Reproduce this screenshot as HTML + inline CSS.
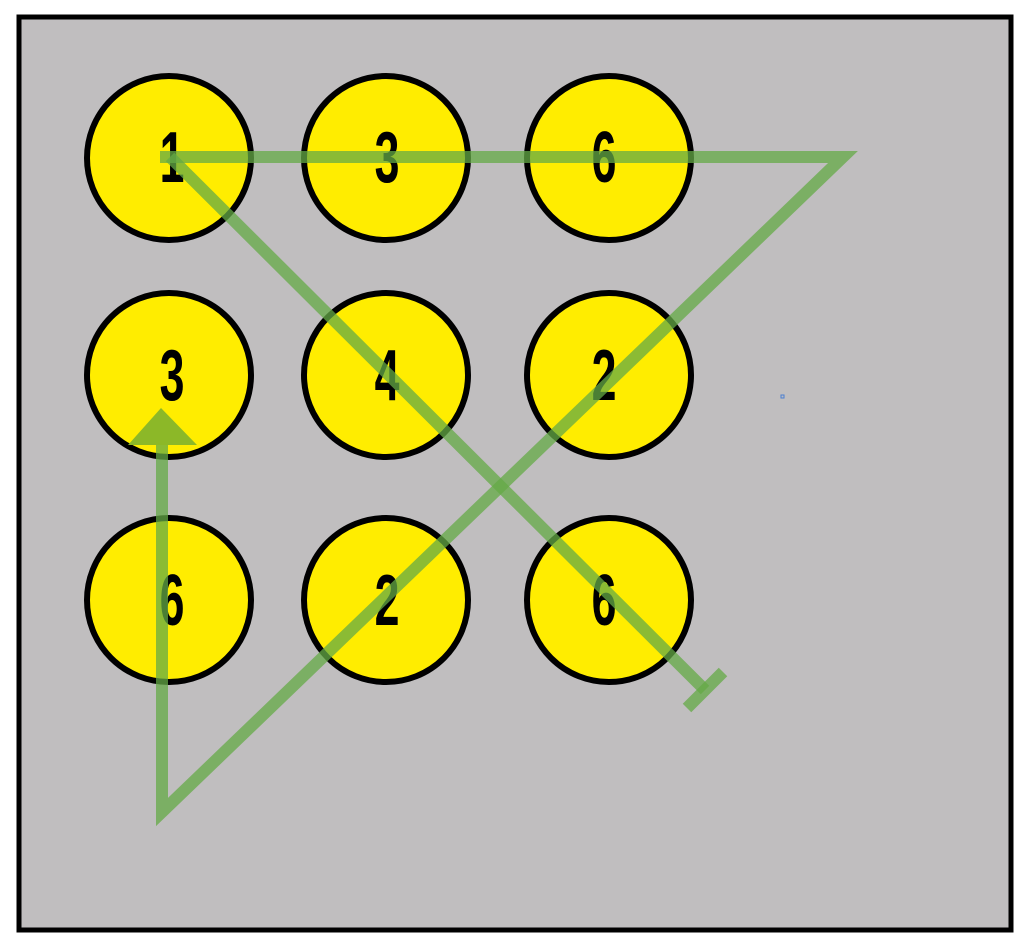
<!DOCTYPE html>
<html><head><style>
html,body{margin:0;padding:0;background:#fff;}
svg{display:block;}
text{font-family:"Liberation Sans Narrow","Liberation Sans",sans-serif;font-weight:bold;font-size:72px;}
</style></head><body>
<svg width="1029" height="946" viewBox="0 0 1029 946">
<rect x="19" y="17" width="992" height="913" fill="#c0bebf" stroke="#000" stroke-width="5"/>
<g fill="#ffed00" stroke="#000" stroke-width="6">
<circle cx="169" cy="158" r="82"/><circle cx="386" cy="158" r="82"/><circle cx="609" cy="158" r="82"/>
<circle cx="169" cy="375" r="82"/><circle cx="386" cy="375" r="82"/><circle cx="609" cy="375" r="82"/>
<circle cx="169" cy="600" r="82"/><circle cx="386" cy="600" r="82"/><circle cx="609" cy="600" r="82"/>
</g>
<g fill="#000" text-anchor="middle">
<text transform="translate(172,182) scale(0.62,1)">1</text>
<text transform="translate(387,182) scale(0.62,1)">3</text>
<text transform="translate(604,182) scale(0.62,1)">6</text>
<text transform="translate(172,400) scale(0.62,1)">3</text>
<text transform="translate(387,400) scale(0.62,1)">4</text>
<text transform="translate(604,400) scale(0.62,1)">2</text>
<text transform="translate(172,625) scale(0.62,1)">6</text>
<text transform="translate(387,625) scale(0.62,1)">2</text>
<text transform="translate(604,625) scale(0.62,1)">6</text>
</g>
<g stroke="rgb(100,170,70)" stroke-opacity="0.75" stroke-width="12" fill="none">
<path d="M160 157 L843 157 L162 812 L162 444" stroke-linejoin="miter"/>
<path d="M170 157 L705 690"/>
<path d="M687 708 L723 672"/>
</g>
<polygon points="161,408 128,445 197,445" fill="rgb(140,184,40)"/>
<rect x="781" y="395" width="3" height="3" fill="none" stroke="#4a7fd0" stroke-width="1"/>
</svg>
</body></html>
